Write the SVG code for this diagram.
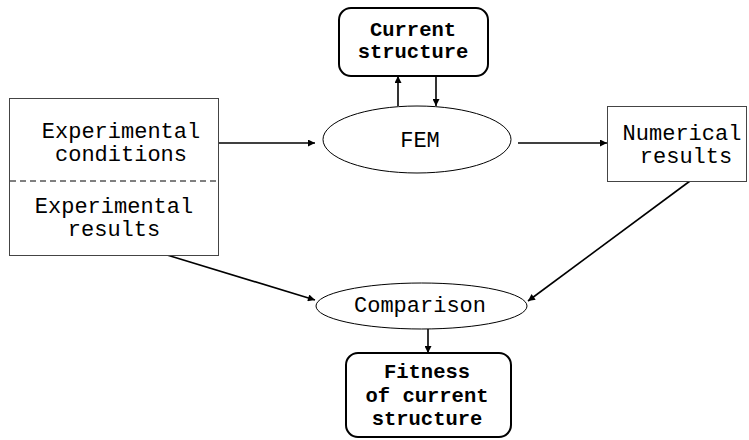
<svg xmlns="http://www.w3.org/2000/svg" width="749" height="440" viewBox="0 0 749 440">
<defs>
<marker id="ah" viewBox="0 0 10 10" refX="10" refY="5" markerWidth="9" markerHeight="7" markerUnits="userSpaceOnUse" orient="auto">
<path d="M0,0 L10,5 L0,10 z" fill="#000"/>
</marker>
</defs>
<style>
.t{font-family:"Liberation Mono","Courier New",monospace;font-size:22px;fill:#000}
.b{font-weight:bold;font-size:20.5px}
.box{fill:#fff;stroke:#444;stroke-width:1}
.rb{fill:#fff;stroke:#000;stroke-width:2}
.el{fill:#fff;stroke:#000;stroke-width:1}
.c{stroke:#000;stroke-width:1.6;fill:none}
</style>
<rect width="749" height="440" fill="#fff"/>
<g id="connectors">
<line class="c" x1="219" y1="143" x2="315" y2="143" marker-end="url(#ah)"/>
<line class="c" x1="518" y1="143" x2="607" y2="143" marker-end="url(#ah)"/>
<line class="c" x1="398" y1="106" x2="398" y2="76" marker-end="url(#ah)"/>
<line class="c" x1="436" y1="76" x2="436" y2="106" marker-end="url(#ah)"/>
<line class="c" x1="167" y1="255" x2="315" y2="300" marker-end="url(#ah)"/>
<line class="c" x1="690" y1="181" x2="528" y2="301" marker-end="url(#ah)"/>
<line class="c" x1="428" y1="329" x2="428" y2="353" marker-end="url(#ah)"/>
</g>
<g id="experimental">
<rect class="box" x="9.5" y="98.5" width="209" height="157"/>
<line x1="10" y1="181" x2="218" y2="181" stroke="#000" stroke-width="1" stroke-dasharray="6,4"/>
<text class="t" x="121" y="138" text-anchor="middle">Experimental</text>
<text class="t" x="121" y="161" text-anchor="middle">conditions</text>
<text class="t" x="114" y="213" text-anchor="middle">Experimental</text>
<text class="t" x="114" y="236" text-anchor="middle">results</text>
</g>
<g id="current">
<rect class="rb" x="339" y="8" width="149" height="68" rx="12" ry="12"/>
<text class="t b" x="413" y="36" text-anchor="middle">Current</text>
<text class="t b" x="413" y="58" text-anchor="middle">structure</text>
</g>
<g id="fem">
<ellipse class="el" cx="417" cy="139.5" rx="94" ry="33.5"/>
<text class="t" x="420" y="147" text-anchor="middle">FEM</text>
</g>
<g id="numerical">
<rect class="box" x="607.5" y="106.5" width="139" height="75"/>
<text class="t" x="682" y="140" text-anchor="middle">Numerical</text>
<text class="t" x="686" y="163" text-anchor="middle">results</text>
</g>
<g id="comparison">
<ellipse class="el" cx="421.5" cy="306" rx="105.5" ry="23"/>
<text class="t" x="420" y="312" text-anchor="middle">Comparison</text>
</g>
<g id="fitness">
<rect class="rb" x="346" y="353" width="165" height="84" rx="12" ry="12"/>
<text class="t b" x="427" y="378" text-anchor="middle">Fitness</text>
<text class="t b" x="427" y="402" text-anchor="middle">of current</text>
<text class="t b" x="427" y="425" text-anchor="middle">structure</text>
</g>
</svg>
